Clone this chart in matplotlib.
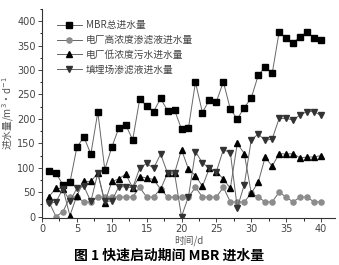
import matplotlib.pyplot as plt
import numpy as np
from matplotlib.ticker import MultipleLocator

plt.rcParams["font.family"] = ["DejaVu Sans", "Noto Sans CJK SC"]

# 时间/d
days = np.arange(1, 41)

# MBR总进水量
mbr_total = [94, 89, 65, 70, 142, 163, 128, 214, 96, 142,
             181, 188, 157, 240, 227, 215, 242, 217, 218, 179,
             182, 275, 213, 239, 235, 276, 220, 200, 223, 243,
             289, 307, 293, 378, 366, 356, 368, 378, 366, 361]
# 电厂高浓度渗滤液进水量
high_conc = [30, 0, 10, 40, 40, 30, 30, 40, 40, 40,
             40, 40, 40, 60, 40, 40, 57, 40, 40, 40,
             40, 60, 40, 40, 40, 60, 30, 30, 30, 48,
             40, 30, 30, 50, 40, 30, 40, 40, 30, 30]
# 电厂低浓度污水进水量
low_conc = [41, 58, 57, 2, 43, 72, 72, 89, 28, 72,
            77, 87, 59, 82, 79, 76, 56, 89, 89, 137,
            97, 84, 62, 99, 92, 77, 58, 150, 129, 48,
            70, 122, 103, 129, 128, 129, 120, 122, 122, 125]
# 填埋场渗滤液进水量
landfill = [27, 30, 57, 31, 58, 62, 31, 89, 31, 32,
            61, 61, 59, 99, 109, 99, 128, 89, 89, 0,
            41, 133, 110, 99, 92, 137, 131, 18, 65, 157,
            169, 156, 159, 201, 201, 198, 208, 215, 215, 207]

labels = ["MBR总进水量", "电厂高浓度渗滤液进水量", "电厂低浓度污水进水量", "填埋场渗滤液进水量"]

fig = plt.figure(figsize=(3.39, 2.65), dpi=100)
ax = fig.add_axes([0.124, 0.179, 0.864, 0.787])

line_c = "#666666"
ax.plot(days, mbr_total, color=line_c, lw=0.7, marker="s", ms=3.7,
        mfc="black", mec="black", label=labels[0])
ax.plot(days, high_conc, color=line_c, lw=0.7, marker="o", ms=3.7,
        mfc="#8c8c8c", mec="#8c8c8c", label=labels[1])
ax.plot(days, low_conc, color=line_c, lw=0.7, marker="^", ms=4.1,
        mfc="black", mec="black", label=labels[2])
ax.plot(days, landfill, color=line_c, lw=0.7, marker="v", ms=4.1,
        mfc="#333333", mec="#333333", label=labels[3])

ax.set_xlim(0, 42)
ax.set_ylim(-2, 425)
ax.xaxis.set_major_locator(MultipleLocator(5))
ax.xaxis.set_minor_locator(MultipleLocator(2.5))
ax.yaxis.set_major_locator(MultipleLocator(50))
ax.yaxis.set_minor_locator(MultipleLocator(25))
ax.tick_params(which="major", direction="out", length=3, width=0.7,
               labelsize=7, colors="#444444", pad=1.5)
ax.tick_params(which="minor", direction="out", length=1.8, width=0.6)
for s in ["top", "right"]:
    ax.spines[s].set_visible(False)
for s in ["left", "bottom"]:
    ax.spines[s].set_linewidth(0.8)
    ax.spines[s].set_color("#333333")

ax.set_xlabel("时间/d", fontsize=7, color="#555555", labelpad=1,
              family=["Noto Sans CJK SC", "DejaVu Sans"])
ax.set_ylabel("进水量/m$^3$·d$^{-1}$", fontsize=7, color="#555555", labelpad=1,
              family=["Noto Sans CJK SC", "DejaVu Sans"])

leg = ax.legend(loc="upper left", bbox_to_anchor=(0.03, 0.975), frameon=False,
                handlelength=2.6, handletextpad=0.4,
                labelspacing=0.5, borderaxespad=0.2,
                prop={"family": ["Noto Sans CJK SC", "DejaVu Sans"], "size": 7})
for t in leg.get_texts():
    t.set_color("#444444")

fig.text(0.5, 0.035, "图 1 快速启动期间 MBR 进水量", ha="center", va="center",
         fontsize=10, fontweight="bold", family=["Noto Sans CJK SC", "DejaVu Sans"])

fig.savefig("out.png", dpi=100)
